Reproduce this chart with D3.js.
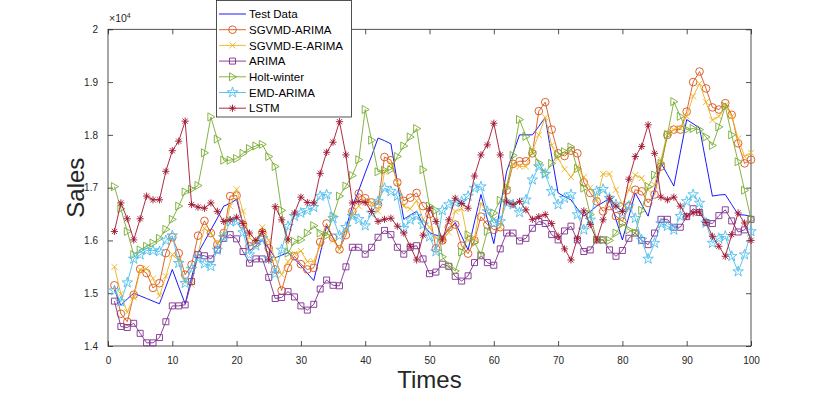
<!DOCTYPE html>
<html>
<head>
<meta charset="utf-8">
<script src="https://cdn.jsdelivr.net/npm/d3@7"></script>
<style>
  body { margin: 0; background: #fff; }
  svg { display: block; font-family: 'Liberation Sans', Arial, sans-serif; }
</style>
</head>
<body>
<div id="chart"></div>
<script>
const times = d3.range(1, 101);

const testData = [15060,14770,14890,15000,14950,14900,14850,14800,15120,15450,
  15120,14800,15300,15760,15980,16200,16420,16650,16700,16780,
  16300,15800,15900,16000,15850,15670,15720,15770,15650,15520,
  15380,15240,15750,16270,16050,15820,16230,16650,16950,17280,
  17600,17940,17890,17830,17100,16400,16480,16550,16300,16150,
  16100,16080,16200,16340,16080,15820,16350,16870,16400,15940,
  16630,17310,17650,18000,18000,18000,18160,18330,17600,16900,
  16830,16770,16600,16460,16550,16650,16720,16800,16400,16010,
  16450,16900,16680,16460,16970,17470,17250,17030,17660,18290,
  18210,18130,17480,16840,16860,16870,16680,16490,16480,16460];

const sgvmdArima = [15150,14610,14460,14970,15460,15380,15100,15190,15760,16060,
  15760,15350,15540,16090,16370,16140,15920,16140,16840,16850,
  16300,15890,15950,16150,15850,15450,15050,15480,15700,15550,
  15450,15480,15970,16320,16050,15830,16100,16550,16890,16800,
  16720,16680,17580,17520,17100,16750,16810,16900,16650,16500,
  15850,16000,16250,16300,15900,15750,16000,16450,16300,16200,
  16250,16950,17450,17500,17500,17650,18450,18620,18100,17650,
  17600,17700,17650,17100,16900,16740,16550,16650,16460,16360,
  16650,16960,16930,16710,16870,17400,18000,18100,18100,18440,
  19000,19200,18880,18520,18480,18600,18380,17840,17460,17530];

const sgvmdEArima = [15500,14990,14640,14920,15440,15470,15280,14950,15320,15730,
  15630,15220,15160,15760,16230,16140,15950,16110,16650,16970,
  16550,16050,15950,16250,16000,15650,15350,15600,15750,15800,
  15600,15600,15900,16150,16000,15830,16200,16500,16650,16750,
  16700,16550,17300,17450,17100,16650,16600,16750,16400,16250,
  16050,16000,16150,16550,16600,16000,16050,16700,16550,16400,
  16250,17050,17450,17400,17400,17700,18000,18330,17800,17550,
  17350,17200,17400,17200,17000,16770,17260,17260,16960,16680,
  16960,17240,17180,16960,17050,17530,18040,18100,18130,18350,
  18730,18970,18620,18280,18350,18560,18350,17930,17590,17660];

const arima = [14850,14370,14350,14430,14240,14060,14060,14160,14460,14760,
  14760,14780,15220,15730,15710,15650,15820,16040,16110,16030,
  15790,15570,15650,15650,15300,14900,14920,15030,14930,14760,
  14680,14790,15080,15250,15150,15140,15500,15870,15870,15740,
  15870,16060,16190,16110,15870,15740,15870,15900,15650,15370,
  15400,15550,15510,15320,15230,15330,15580,15710,15580,15530,
  15840,16140,16140,15990,16040,16230,16360,16320,16110,16010,
  16180,16270,16010,15790,15820,16010,16010,15820,15700,15810,
  16040,16140,16000,15920,16140,16400,16400,16250,16250,16450,
  16600,16530,16340,16320,16470,16580,16370,16160,16200,16400];

const holtWinter = [17020,16600,16170,15730,15820,15890,15950,16040,16210,16400,
  16650,16920,16970,17040,17660,18340,17920,17520,17520,17550,
  17650,17740,17790,17820,17590,17400,16570,15760,15980,16010,
  16140,16280,16140,16090,16460,16840,17030,17230,17530,18480,
  17900,17300,17330,17340,17590,17790,17960,18120,17340,16650,
  16570,15690,15530,15420,15780,16110,15960,15730,16170,16520,
  16760,17000,17610,18290,17970,17680,17470,17270,17460,17620,
  17680,17770,17360,16990,16490,16010,16010,16000,16140,16320,
  16200,16140,16570,17020,17240,17460,18000,18630,18350,18100,
  18120,18100,17960,17800,18150,18540,18000,17490,16950,16400];

const emdArima = [15050,14840,15200,15650,15730,15810,15810,15790,16000,16090,
  15570,15190,15460,15670,15560,15510,15820,16060,16360,16360,
  16150,15730,15900,16040,15660,15370,15820,16270,16460,16520,
  16570,16630,16840,16870,16420,16090,16250,16460,16400,16280,
  16520,16740,16990,16930,16840,16230,16390,16460,16300,16070,
  15790,16570,16680,16720,16740,16840,16990,17020,16550,16330,
  16360,16720,16680,16530,16770,17150,17400,17260,16930,16680,
  16800,16870,16490,16200,16390,16930,16970,16800,16680,16520,
  16650,16420,16010,15650,15950,16320,16270,16200,16460,16740,
  16870,16710,16330,15950,16040,16080,15700,15410,15730,16170];

const lstm = [16170,16710,16410,16010,16410,16840,16770,16770,17310,17700,
  17880,18260,16680,16630,16610,16710,16550,16360,16390,16440,
  16320,16140,16000,16170,15630,16640,16390,16010,16520,16820,
  16720,16710,17270,17670,17860,18250,17620,16710,16740,16720,
  16550,16360,16400,16420,16270,16140,15890,15630,16100,16610,
  16360,16010,16390,16800,16700,16610,17220,17620,17810,18220,
  17620,16730,16680,16740,16580,16400,16450,16490,16320,16080,
  15840,15630,16040,16560,16300,16010,16390,16800,16650,16550,
  17160,17590,17780,18190,17650,16820,16770,16820,16650,16460,
  16520,16540,16340,16080,15890,15700,16110,16520,16330,16000];

const seriesNames = ['Test Data', 'SGVMD-ARIMA', 'SGVMD-E-ARIMA', 'ARIMA', 'Holt-winter', 'EMD-ARIMA', 'LSTM'];
const xTicks = [0, 10, 20, 30, 40, 50, 60, 70, 80, 90, 100];
const yTicks = [14000, 15000, 16000, 17000, 18000, 19000, 20000];

// markers, drawn as small paths centred on 0,0
const markers = {
  none: null,
  circle: d3.symbol(d3.symbolCircle, 46)(),
  x: 'M-3,-3L3,3M-3,3L3,-3',
  square: 'M-3,-3h6v6h-6z',
  tri: 'M-3,-4L4,0L-3,4Z',
  star: d3.symbol(d3.symbolStar, 34)(),
  ast: 'M0,-3.6V3.6M-3.6,0H3.6M-2.6,-2.6L2.6,2.6M-2.6,2.6L2.6,-2.6'
};

const series = [
  { name: seriesNames[0], values: testData, color: '#0000ff', marker: 'none' },
  { name: seriesNames[1], values: sgvmdArima, color: '#d95319', marker: 'circle' },
  { name: seriesNames[2], values: sgvmdEArima, color: '#edb120', marker: 'x' },
  { name: seriesNames[3], values: arima, color: '#7e2f8e', marker: 'square' },
  { name: seriesNames[4], values: holtWinter, color: '#77ac30', marker: 'tri' },
  { name: seriesNames[5], values: emdArima, color: '#4dbeee', marker: 'star' },
  { name: seriesNames[6], values: lstm, color: '#a2142f', marker: 'ast' }
];

const width = 830;
const height = 393;
const plot = { left: 108, right: 751, top: 29.3, bottom: 346 };
const textColor = '#262626';

const svg = d3.select('#chart').append('svg')
  .attr('width', width)
  .attr('height', height);

const x = d3.scaleLinear().domain([0, 100]).range([plot.left, plot.right]);
const y = d3.scaleLinear().domain([14000, 20000]).range([plot.bottom, plot.top]);

const tickLen = 5;

// axes (MATLAB style: ticks inside, box on)
svg.append('g')
  .attr('transform', `translate(0,${plot.bottom})`)
  .call(d3.axisBottom(x).tickValues(xTicks).tickSize(-tickLen).tickPadding(tickLen + 6))
  .call((g) => g.select('.domain').remove());
svg.append('g')
  .attr('transform', `translate(0,${plot.top})`)
  .call(d3.axisTop(x).tickValues(xTicks).tickSize(-tickLen).tickFormat(''))
  .call((g) => g.select('.domain').remove());
svg.append('g')
  .attr('transform', `translate(${plot.left},0)`)
  .call(d3.axisLeft(y).tickValues(yTicks).tickSize(-tickLen).tickPadding(tickLen + 5)
    .tickFormat((d) => d3.format('.1f')(d / 10000).replace(/\.0$/, '')))
  .call((g) => g.select('.domain').remove());
svg.append('g')
  .attr('transform', `translate(${plot.right},0)`)
  .call(d3.axisRight(y).tickValues(yTicks).tickSize(-tickLen).tickFormat(''))
  .call((g) => g.select('.domain').remove());

svg.selectAll('.tick line').attr('stroke', textColor).attr('stroke-width', 0.8);
svg.selectAll('.tick text')
  .attr('fill', textColor)
  .attr('font-size', 10)
  .attr('font-family', "'Liberation Sans', Arial, sans-serif");

svg.append('rect')
  .attr('x', plot.left)
  .attr('y', plot.top)
  .attr('width', plot.right - plot.left)
  .attr('height', plot.bottom - plot.top)
  .attr('fill', 'none')
  .attr('stroke', textColor)
  .attr('stroke-width', 0.8);

// exponent label
const expo = svg.append('text')
  .attr('x', plot.left + 1)
  .attr('y', plot.top - 7)
  .attr('font-size', 10.5)
  .attr('fill', textColor);
expo.append('tspan').text('\u00d710');
expo.append('tspan').attr('dy', -4).attr('font-size', 7).text('4');

// axis titles
svg.append('text')
  .attr('x', x(50))
  .attr('y', 388)
  .attr('text-anchor', 'middle')
  .attr('font-size', 24)
  .attr('fill', textColor)
  .text('Times');
svg.append('text')
  .attr('transform', `translate(84,${(plot.top + plot.bottom) / 2}) rotate(-90)`)
  .attr('text-anchor', 'middle')
  .attr('font-size', 24)
  .attr('fill', textColor)
  .text('Sales');

// lines + markers
const line = d3.line()
  .x((d, i) => x(times[i]))
  .y((d) => y(d));

const plotG = svg.append('g');

series.forEach((s) => {
  plotG.append('path')
    .datum(s.values)
    .attr('d', line)
    .attr('fill', 'none')
    .attr('stroke', s.color)
    .attr('stroke-width', 0.9);

  if (markers[s.marker]) {
    plotG.selectAll(null)
      .data(s.values)
      .enter()
      .append('path')
      .attr('d', markers[s.marker])
      .attr('transform', (d, i) => `translate(${x(times[i])},${y(d)})`)
      .attr('fill', 'none')
      .attr('stroke', s.color)
      .attr('stroke-width', 0.9);
  }
});

// legend
const legend = svg.append('g');
legend.append('rect')
  .attr('x', 216.5)
  .attr('y', 0.5)
  .attr('width', 135)
  .attr('height', 116.5)
  .attr('fill', '#fff')
  .attr('stroke', textColor)
  .attr('stroke-width', 0.8);

series.forEach((s, i) => {
  const ly = 14 + i * 15.7;
  legend.append('line')
    .attr('x1', 219)
    .attr('x2', 246)
    .attr('y1', ly)
    .attr('y2', ly)
    .attr('stroke', s.color)
    .attr('stroke-width', 0.9);
  if (markers[s.marker]) {
    legend.append('path')
      .attr('d', markers[s.marker])
      .attr('transform', `translate(232.5,${ly})`)
      .attr('fill', 'none')
      .attr('stroke', s.color)
      .attr('stroke-width', 0.9);
  }
  legend.append('text')
    .attr('x', 249)
    .attr('y', ly + 4.2)
    .attr('font-size', 11.5)
    .attr('fill', '#000')
    .text(s.name);
});
</script>
</body>
</html>
